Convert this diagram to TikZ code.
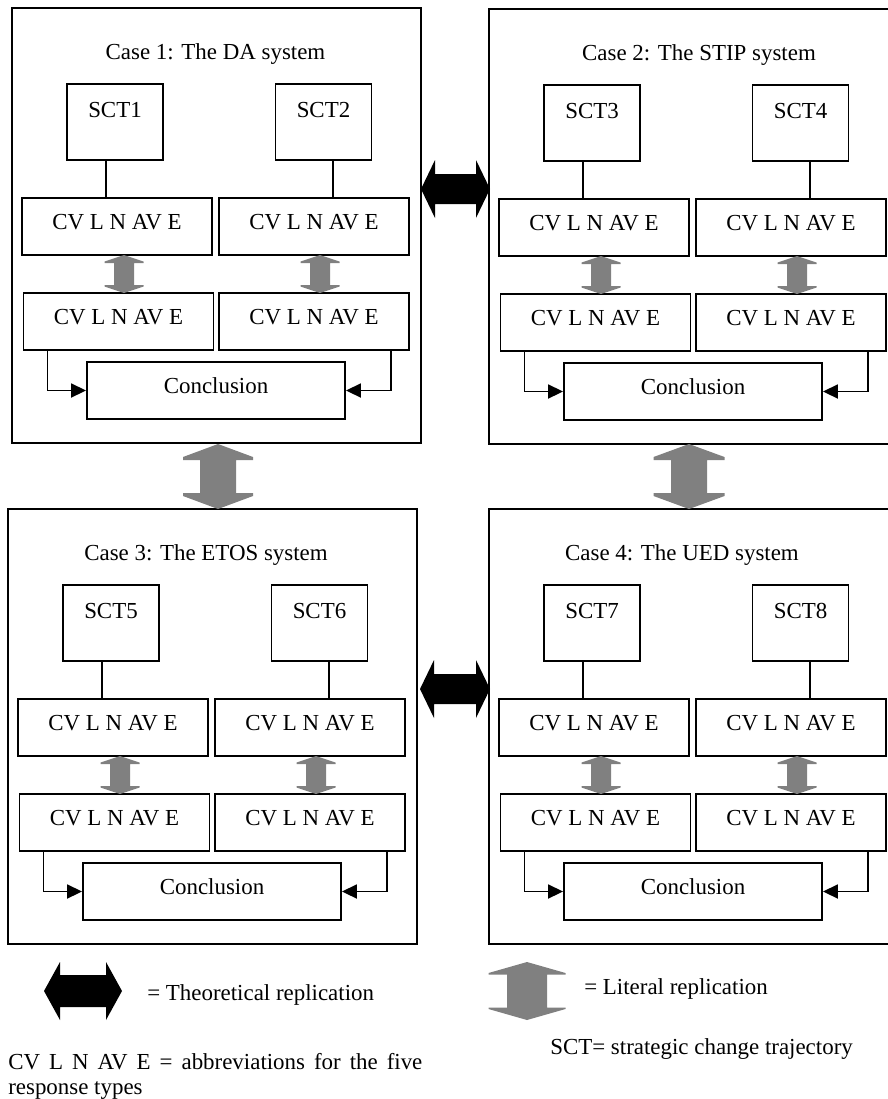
\documentclass[tikz,border=0pt]{standalone}
\usepackage{fontspec}
\setmainfont{Liberation Serif}
\usetikzlibrary{arrows.meta}
\definecolor{litgray}{RGB}{128,128,128}
\newcommand{\casefont}{\fontsize{16.3pt}{17.7pt}\selectfont}
\tikzset{
    case frame/.style={draw,line width=1.3pt,inner sep=0pt,
        minimum width=10.225cm,minimum height=10.875cm},
    sct box/.style={draw,line width=1.3pt,inner sep=0pt,minimum width=2.4cm,
        text height=.825cm,text depth=1.075cm,font=\casefont},
    response box/.style={draw,line width=1.3pt,inner sep=0pt,
        minimum width=4.75cm,minimum height=1.425cm,
        text height=.375cm,text depth=.25cm,font=\casefont},
    conclusion box/.style={response box,minimum width=6.45cm},
    case title/.style={anchor=base,inner sep=0pt,font=\casefont},
    key text/.style={anchor=base west,inner sep=0pt,font=\casefont},
    link/.style={line width=1.3pt},
    >={Triangle[length=.375cm,width=.35cm]}
}
% grey block arrow, vertical: x, top, bottom, half shaft, half head, head length, step
\newcommand{\litrepl}[7]{%
  \fill[litgray] (#1,#2) -- (#1+#5,#2+#6) -- (#1+#5,#2+#6+#7) -- (#1+#4,#2+#6+#7)
    -- (#1+#4,#3-#6-#7) -- (#1+#5,#3-#6-#7) -- (#1+#5,#3-#6) -- (#1,#3)
    -- (#1-#5,#3-#6) -- (#1-#5,#3-#6-#7) -- (#1-#4,#3-#6-#7) -- (#1-#4,#2+#6+#7)
    -- (#1-#5,#2+#6+#7) -- (#1-#5,#2+#6) -- cycle;}
% black block arrow, horizontal: y, left, right, half shaft, half head, head length
\newcommand{\theorepl}[6]{%
  \fill[black] (#2,#1) -- (#2+#6,#1-#5) -- (#2+#6,#1-#4) -- (#3-#6,#1-#4)
    -- (#3-#6,#1-#5) -- (#3,#1) -- (#3-#6,#1+#5) -- (#3-#6,#1+#4)
    -- (#2+#6,#1+#4) -- (#2+#6,#1+#5) -- cycle;}

\begin{document}
\begin{tikzpicture}[x=0.025cm,y=-0.025cm]
\useasboundingbox (0,0) rectangle (888,1099);
% the four cases
\foreach \c/\ox/\oy/\tx/\sys/\sa/\sb in {1/12/8/203.5/DA/1/2,2/489/9/210/STIP/3/4,
    3/8/509/198/ETOS/5/6,4/489/509/193/UED/7/8}{
  \begin{scope}[shift={(\ox,\oy)}]
    \node[case frame] (case\c) at (204.5,217.5) {};
    \node[case title] (title\c) at (\tx,51.5) {Case \c: The \sys{} system};
    \node[sct box] (sctA\c) at (103,114) {SCT\sa};
    \node[sct box] (sctB\c) at (311.5,114) {SCT\sb};
    \node[response box] (cvTL\c) at (105,218.5) {CV L N AV E};
    \node[response box] (cvTR\c) at (302,218.5) {CV L N AV E};
    \node[response box] (cvBL\c) at (106.5,313.5) {CV L N AV E};
    \node[response box] (cvBR\c) at (302,313.5) {CV L N AV E};
    \node[conclusion box] (concl\c) at (204,382.5) {Conclusion};
    \draw[link] (sctA\c.south) ++(-9,0) coordinate (lA\c) -- (lA\c |- cvTL\c.north);
    \draw[link] (sctB\c.south) ++(9.5,0) coordinate (lB\c) -- (lB\c |- cvTR\c.north);
    \litrepl{112}{247}{285}{10}{19.5}{6.5}{1.5}
    \litrepl{308}{247}{285}{10}{19.5}{6.5}{1.5}
    \draw[link,->] (cvBL\c.south west) ++(25,0) |- (concl\c.west);
    \draw[link,->] (cvBR\c.south east) ++(-19,0) |- (concl\c.east);
  \end{scope}}
% replication between the cases
\theorepl{189}{421}{490}{15}{29}{14}
\theorepl{689}{420}{490}{15}{29}{14}
\litrepl{218}{444}{509}{18}{35}{13}{3}
\litrepl{689}{444}{509}{18}{35.5}{13}{3}
% key
\theorepl{991}{44}{122}{16}{29}{16}
\node[key text] (theokey) at (147,1000) {= Theoretical replication};
\litrepl{527}{962}{1020}{20}{38.5}{11}{1.5}
\node[key text] (litkey) at (584,994) {= Literal replication};
\node[anchor=north west,inner sep=0pt,text width=10.35cm,align=justify,font=\casefont]
    (abbrkey) at (8,1053) {CV L N AV E = abbreviations for the five\linebreak response types};
\node[key text] (sctkey) at (550,1054) {SCT= strategic change trajectory};
\end{tikzpicture}
\end{document}
